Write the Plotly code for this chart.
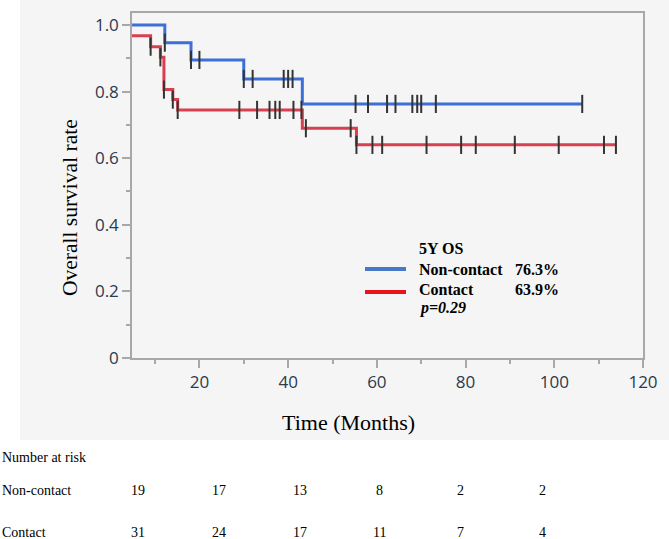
import plotly.graph_objects as go

# ---------------- data ----------------
nc_times = [0.0, 12.2, 18.1, 30.0, 43.2]
nc_surv = [1.0, 0.947, 0.895, 0.838, 0.763]
nc_end = 106.3
nc_censor = [12.2, 18.1, 20.0, 30.0, 32.0, 39.0, 40.0, 41.0, 55.2, 58.0,
             62.3, 64.2, 68.0, 69.1, 70.0, 73.3, 106.3]

ct_times = [0.0, 4.0, 9.0, 11.2, 12.0, 14.0, 15.1, 43.2, 55.4]
ct_surv = [1.0, 0.968, 0.935, 0.903, 0.806, 0.776, 0.745, 0.690, 0.640]
ct_end = 113.9
ct_censor = [9.0, 11.2, 12.0, 14.0, 15.1, 29.0, 33.0, 35.8, 37.1, 38.1, 41.2,
             43.0, 44.0, 54.1, 55.4, 59.0, 61.2, 71.2, 79.0, 82.3, 91.1, 101.0,
             111.2, 113.9]

group_names = ["Non-contact", "Contact"]
os5y = ["76.3%", "63.9%"]
p_text = "p=0.29"

risk_label = "Number at risk"
risk_nc = [19, 17, 13, 8, 2, 2]
risk_ct = [31, 24, 17, 11, 7, 4]

y_tickvals = [0, 0.2, 0.4, 0.6, 0.8, 1.0]
y_ticktext = ["0", "0.2", "0.4", "0.6", "0.8", "1.0"]
x_tickvals = [20, 40, 60, 80, 100, 120]

# ---------------- helpers ----------------
W, H = 669, 539
L, R, T, B = 132, 643, 13, 358


def px(x):
    return (x - L) / (R - L)


def py(y):
    return (B - y) / (B - T)


def step_val(times, surv, t):
    v = surv[0]
    for ti, si in zip(times, surv):
        if ti <= t:
            v = si
    return v


BLUE = "#3d6fd6"
RED = "#d9404f"

fig = go.Figure()
for times, surv, end, cens, col in [
    (nc_times, nc_surv, nc_end, nc_censor, BLUE),
    (ct_times, ct_surv, ct_end, ct_censor, RED),
]:
    fig.add_trace(go.Scatter(
        x=times + [end], y=surv + [surv[-1]], mode="lines",
        line=dict(color=col, width=3, shape="hv"), showlegend=False,
        hoverinfo="skip"))
for times, surv, cens in [(nc_times, nc_surv, nc_censor), (ct_times, ct_surv, ct_censor)]:
    fig.add_trace(go.Scatter(
        x=cens, y=[step_val(times, surv, t) for t in cens], mode="markers",
        marker=dict(symbol="line-ns", size=13, line=dict(color="#333333", width=2)),
        showlegend=False, hoverinfo="skip"))

tickfont = dict(family="Open Sans, DejaVu Sans", size=17, color="#2b3a4e")
fig.update_xaxes(range=[4.8, 120], tickvals=x_tickvals, ticks="outside", ticklen=8,
                 tickcolor="#a8a8a8", tickwidth=1.5,
                 minor=dict(dtick=10, tick0=0, ticks="outside", ticklen=4,
                            tickcolor="#a8a8a8", tickwidth=1.5),
                 showline=True, linecolor="#a8a8a8", linewidth=1.5, mirror=True,
                 showgrid=False, zeroline=False, tickfont=tickfont)
fig.update_yaxes(range=[0, 1.036], tickvals=y_tickvals, ticktext=y_ticktext,
                 ticks="outside", ticklen=8, tickcolor="#a8a8a8", tickwidth=1.5,
                 minor=dict(dtick=0.1, tick0=0, ticks="outside", ticklen=4,
                            tickcolor="#a8a8a8", tickwidth=1.5),
                 showline=True, linecolor="#a8a8a8", linewidth=1.5, mirror=True,
                 showgrid=False, zeroline=False, tickfont=tickfont)

shapes = [
    dict(type="rect", xref="paper", yref="paper", x0=px(20), x1=px(669),
         y0=py(440), y1=py(0), fillcolor="#f5f5f5", line=dict(width=0), layer="below"),
    dict(type="line", xref="paper", yref="paper", x0=px(365), x1=px(406),
         y0=py(269), y1=py(269), line=dict(color="#4a78c8", width=4)),
    dict(type="line", xref="paper", yref="paper", x0=px(365), x1=px(406),
         y0=py(292), y1=py(292), line=dict(color="#e8141c", width=4)),
]

serif = "Liberation Serif, Times New Roman, serif"
ann = []


def A(text, x, y, size, xanchor="left", bold=False, italic=False, angle=0):
    t = text
    if bold:
        t = "<b>" + t + "</b>"
    if italic:
        t = "<i>" + t + "</i>"
    ann.append(dict(text=t, x=px(x), y=py(y), xref="paper", yref="paper",
                    xanchor=xanchor, yanchor="middle", showarrow=False,
                    textangle=angle, font=dict(family=serif, size=size, color="#000000")))


A("Overall survival rate", 70, 208, 21.5, xanchor="center", angle=-90)
A("Time (Months)", 348, 422, 22, xanchor="center")
A("5Y OS", 417, 248, 16, bold=True)
A(group_names[0], 417, 269, 16, bold=True)
A(group_names[1], 417, 289, 16, bold=True)
A(os5y[0], 513, 269, 16, bold=True)
A(os5y[1], 513, 289, 16, bold=True)
A(p_text, 417, 308, 16, bold=True, italic=True)

A(risk_label, 0, 457, 14)
A(group_names[0], 0, 490, 14)
A(group_names[1], 0, 532, 14)
col_x = [138, 219, 300, 379, 460, 542]
for cx, a, b in zip(col_x, risk_nc, risk_ct):
    A(str(a), cx, 490, 14, xanchor="center")
    A(str(b), cx, 532, 14, xanchor="center")

fig.update_layout(width=W, height=H, margin=dict(l=L, r=W - R, t=T, b=H - B),
                  paper_bgcolor="white", plot_bgcolor="white",
                  shapes=shapes, annotations=ann, showlegend=False)

fig.write_html("out.html")
